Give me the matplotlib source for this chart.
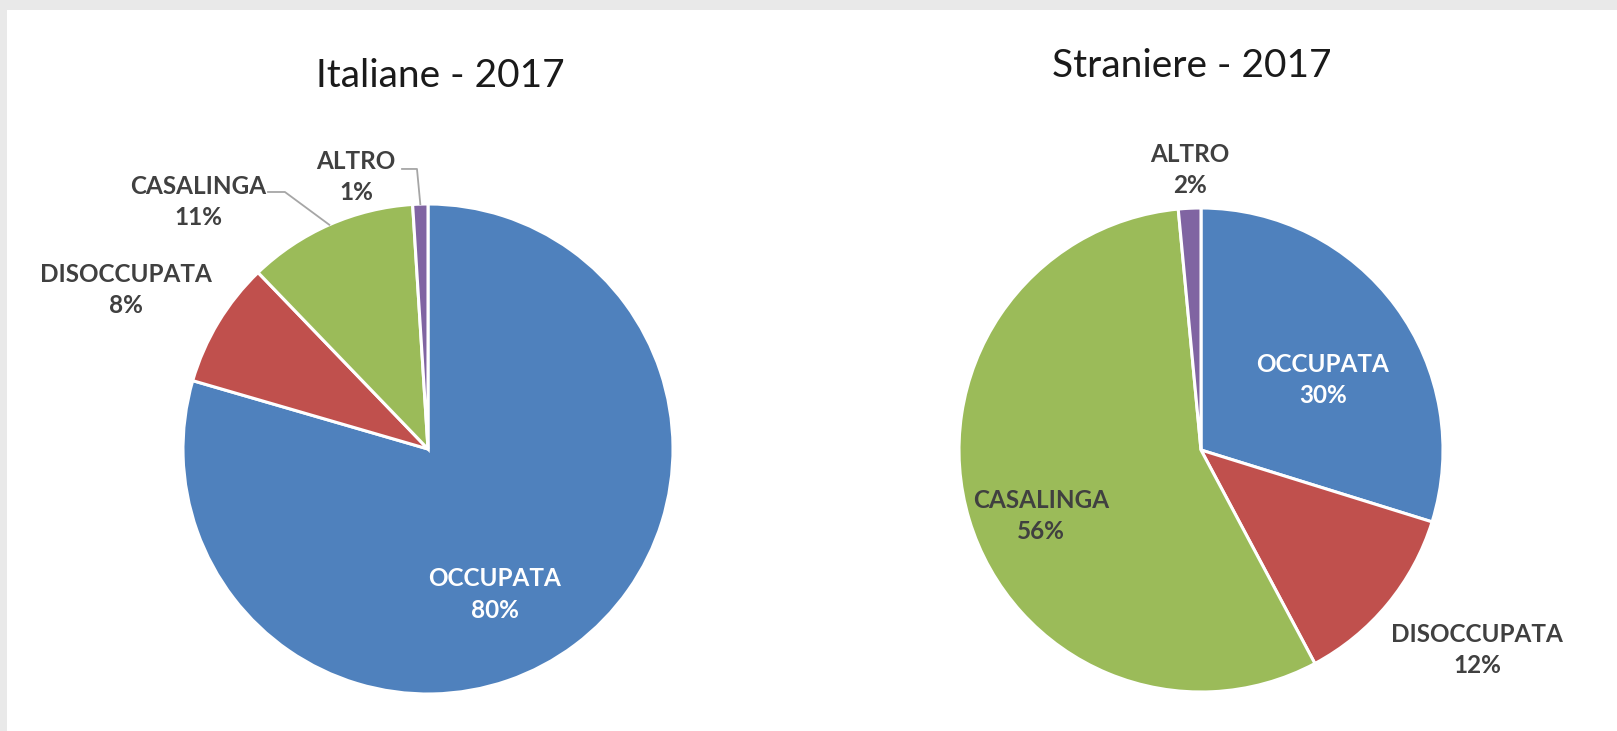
import numpy as np
import matplotlib
matplotlib.use("Agg")
from matplotlib import pyplot as plt
from matplotlib.patches import Rectangle

plt.rcParams['font.family'] = ['Lato', 'DejaVu Sans']

#Data (percent shares, labels shown rounded):
categories = ["OCCUPATA", "DISOCCUPATA", "CASALINGA", "ALTRO"]
italiane = [79.5, 8.3, 11.2, 1.0]
straniere = [29.8, 12.4, 56.3, 1.5]
titles = ["Italiane - 2017", "Straniere - 2017"]
colors = ["#4F81BD", "#C0504D", "#9BBB59", "#8064A2"]

W, H = 1617, 731
fig = plt.figure(figsize=(W/100, H/100), dpi=100)
fig.patch.set_facecolor("#e9e9e9")
fig.add_artist(Rectangle((7/W, 0), 1, 1 - 10/H, transform=fig.transFigure,
                         facecolor="white", edgecolor="none", zorder=-10))

#Pie centers (px) and radius (px) plus label positions in data units (r = 1):
centers = [(428, 449), (1201, 450)]
radii = [245, 242]
lim = 1.6
label_pos = [
    [(0.273, -0.595), (-1.233, 0.649), (-0.939, 1.008), (-0.294, 1.110)],
    [(0.504, 0.289), (1.140, -0.826), (-0.661, -0.273), (-0.045, 1.157)],
]
label_col = [
    ["white", "#404040", "#404040", "#404040"],
    ["white", "#404040", "#404040", "#404040"],
]
#Leader line elbows for the left chart (CASALINGA, ALTRO)
leaders = {2: [(-0.653, 1.049), (-0.584, 1.049)], 3: [(-0.106, 1.143), (-0.045, 1.143)]}
title_pos = [(440, 87), (1192, 77)]

for i, vals in enumerate([italiane, straniere]):
    cx, cy = centers[i]
    r = radii[i]
    half = lim * r
    ax = fig.add_axes([(cx - half)/W, (H - cy - half)/H, 2*half/W, 2*half/H])
    ax.set_zorder(1)
    wedges, _ = ax.pie(vals, colors=colors, startangle=90, counterclock=False,
                       wedgeprops=dict(edgecolor="white", linewidth=2.2))
    ax.set_xlim(-lim, lim)
    ax.set_ylim(-lim, lim)
    ax.set_aspect('auto')
    ax.axis('off')

    for j, cat in enumerate(categories):
        x, y = label_pos[i][j]
        ax.text(x, y, "%s\n%.0f%%" % (cat, vals[j]), ha='center', va='center',
                fontsize=17.5, fontweight='bold', color=label_col[i][j],
                linespacing=1.45)

    if i == 0:
        for j, pts in leaders.items():
            w = wedges[j]
            mid = np.deg2rad((w.theta1 + w.theta2) / 2)
            xs = [p[0] for p in pts] + [np.cos(mid)]
            ys = [p[1] for p in pts] + [np.sin(mid)]
            ax.plot(xs, ys, color="#a6a6a6", linewidth=1.3)

    tx, ty = title_pos[i]
    fig.text(tx/W, 1 - ty/H, titles[i], ha='center', va='baseline',
             fontsize=28, color="#1a1a1a")

fig.savefig("out.png", dpi=100, facecolor=fig.get_facecolor())
